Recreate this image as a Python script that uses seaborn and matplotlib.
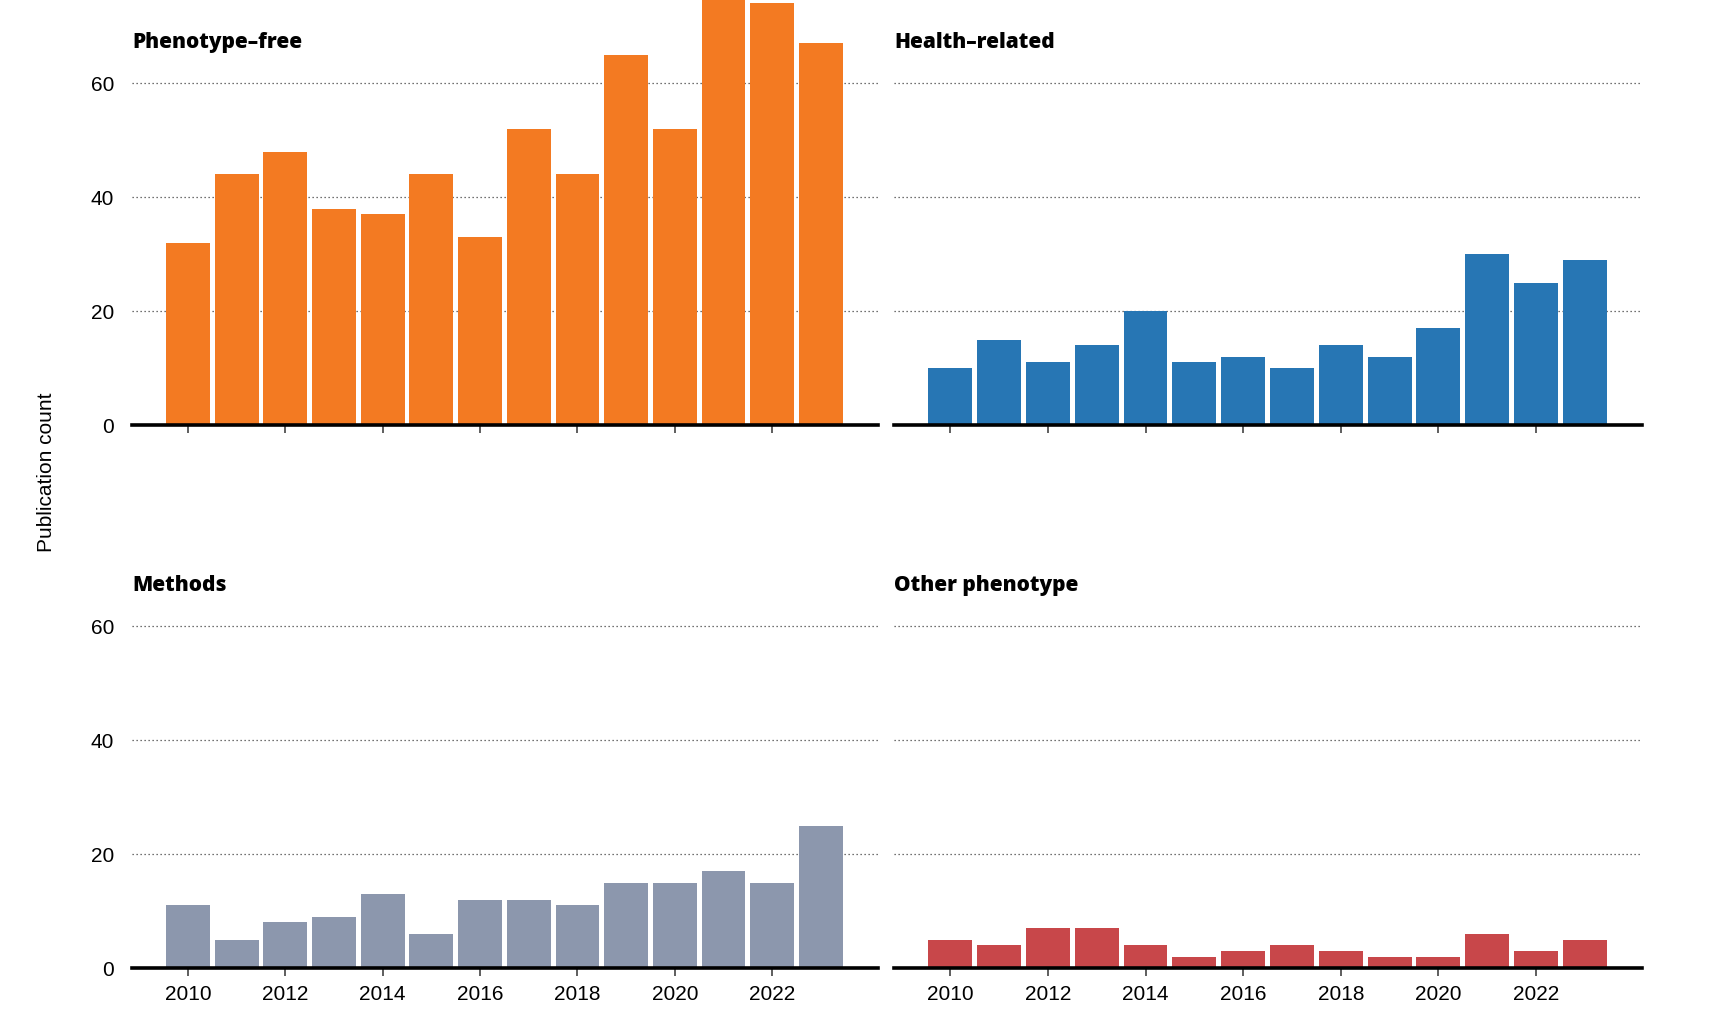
import numpy as np
import pandas as pd
import seaborn as sns
import matplotlib
matplotlib.use("Agg")
import matplotlib.pyplot as plt

# data
years = list(range(2010, 2024))
phenotype_free = [32, 44, 48, 38, 37, 44, 33, 52, 44, 65, 52, 76, 74, 67]
health_related = [10, 15, 11, 14, 20, 11, 12, 10, 14, 12, 17, 30, 25, 29]
methods = [11, 5, 8, 9, 13, 6, 12, 12, 11, 15, 15, 17, 15, 25]
other_phenotype = [5, 4, 7, 7, 4, 2, 3, 4, 3, 2, 2, 6, 3, 5]

panel_titles = ["Phenotype\u2013free", "Health\u2013related", "Methods", "Other phenotype"]
panel_colors = ["#F37A22", "#2776B4", "#8C97AD", "#C8474A"]
y_ticks = [0, 20, 40, 60]
x_ticks = [2010, 2012, 2014, 2016, 2018, 2020, 2022]

sns.set_theme(style="white")
plt.rcParams["font.family"] = ["Liberation Sans", "DejaVu Sans"]

fig = plt.figure(figsize=(17.18, 10.18), dpi=100)

# axes boxes [left, bottom, width, height] in figure fractions
boxes = [
    [0.0768, 0.5825, 0.4342, 0.4175],
    [0.5204, 0.5825, 0.4354, 0.4175],
    [0.0768, 0.0491, 0.4342, 0.4175],
    [0.5204, 0.0491, 0.4354, 0.4175],
]
series = [phenotype_free, health_related, methods, other_phenotype]

for i, (box, vals, title, col) in enumerate(zip(boxes, series, panel_titles, panel_colors)):
    ax = fig.add_axes(box)
    df = pd.DataFrame({"year": years, "count": vals})
    sns.barplot(data=df, x="year", y="count", native_scale=True, width=0.9,
                color=col, saturation=1, linewidth=0, errorbar=None, ax=ax)
    ax.set_xlim(2008.85, 2024.17)
    ax.set_ylim(0, 74.6)
    ax.set_xlabel("")
    ax.set_ylabel("")
    ax.set_axisbelow(True)

    # dotted gridlines
    for yv in y_ticks[1:]:
        ax.axhline(yv, color="#444444", linestyle=(0, (1, 2.2)), linewidth=0.9, zorder=0)

    for s in ["top", "right", "left"]:
        ax.spines[s].set_visible(False)
    ax.spines["bottom"].set_color("black")
    ax.spines["bottom"].set_linewidth(2.6)
    ax.spines["bottom"].set_zorder(5)

    ax.set_xticks(x_ticks)
    ax.set_yticks(y_ticks)
    ax.tick_params(axis="x", direction="out", length=5.8, width=1.1, color="#333333",
                   pad=6.5, labelsize=15, labelcolor="black", bottom=True)
    ax.tick_params(axis="y", length=0, pad=13, labelsize=15, labelcolor="black")
    if i < 2:
        ax.set_xticklabels([])
    else:
        ax.set_xticklabels([str(x) for x in x_ticks])
    if i % 2 == 1:
        ax.set_yticklabels([])

    ax.text(0.0, 0.901, title, transform=ax.transAxes, ha="left", va="center",
            fontsize=15, fontweight="heavy", color="black",
            family=["Open Sans", "Liberation Sans", "DejaVu Sans"])

fig.text(0.0268, 0.5363, "Publication count", rotation=90, ha="center", va="center",
         fontsize=15, color="black")

fig.savefig("out.png", dpi=100)
